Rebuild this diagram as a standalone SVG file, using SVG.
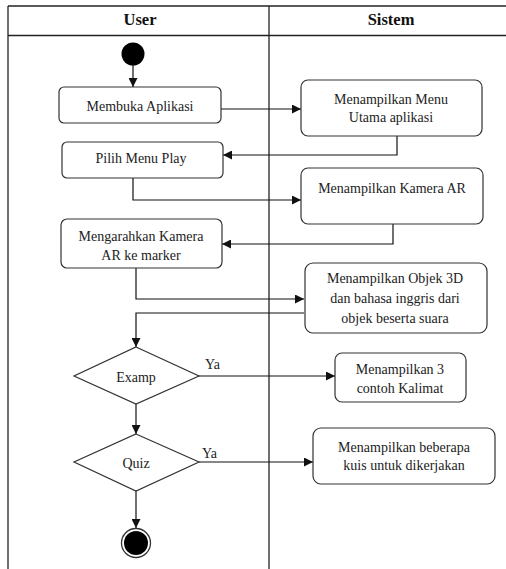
<svg xmlns="http://www.w3.org/2000/svg" width="506" height="569" viewBox="0 0 506 569">
<style>
.frame{stroke:#222;stroke-width:1.3;fill:none}
.node{fill:#fff;stroke:#333;stroke-width:1.2}
text{font-family:'Liberation Serif','Tinos','DejaVu Serif','Noto Serif',serif}
.t{font-size:14px;fill:#222;text-anchor:middle;dominant-baseline:central}
.h{font-size:16.5px;font-weight:bold;fill:#111;text-anchor:middle;dominant-baseline:central}
.c{stroke:#111;stroke-width:1.2;fill:none;marker-end:url(#ah)}
.lbl{font-size:14px;fill:#222}
</style>
<defs>
<marker id="ah" viewBox="0 0 10 10" refX="10" refY="5" markerWidth="9" markerHeight="9" markerUnits="userSpaceOnUse" orient="auto">
<path d="M0,0 L10,5 L0,10 Z" fill="#111"/>
</marker>
</defs>
<rect width="506" height="569" fill="#fff"/>
<g id="swimlanes">
<line class="frame" x1="8" y1="6" x2="506" y2="6"/>
<line class="frame" x1="8" y1="35.5" x2="506" y2="35.5"/>
<line class="frame" x1="8" y1="6" x2="8" y2="569"/>
<line class="frame" x1="269" y1="6" x2="269" y2="569"/>
<text class="h" x="140" y="19">User</text>
<text class="h" x="391" y="19">Sistem</text>
</g>
<g id="connectors">
<path class="c" d="M133,65 V87"/>
<path class="c" d="M221,109 H301"/>
<path class="c" d="M397,136 V155 H223"/>
<path class="c" d="M133,178 V200 H301"/>
<path class="c" d="M393,224 V244 H222"/>
<path class="c" d="M136,268 V299 H304"/>
<path class="c" d="M304,313 H136 V347"/>
<path class="c" d="M199,376 H335"/>
<path class="c" d="M136,404 V434"/>
<path class="c" d="M199,462 H313"/>
<path class="c" d="M136,491 V528"/>
<text class="lbl" x="205" y="369">Ya</text>
<text class="lbl" x="202" y="458">Ya</text>
</g>
<g id="start"><circle cx="133" cy="54" r="11.5" fill="#000"/></g>
<g id="membuka">
<rect class="node" x="59" y="87" width="162" height="36" rx="5"/>
<text class="t" x="140" y="106">Membuka Aplikasi</text>
</g>
<g id="menu-utama">
<rect class="node" x="301" y="80" width="181" height="56" rx="7"/>
<text class="t" x="391" y="99">Menampilkan Menu</text>
<text class="t" x="391" y="117">Utama aplikasi</text>
</g>
<g id="pilih">
<rect class="node" x="62" y="142" width="161" height="36" rx="5"/>
<text class="t" x="141" y="158">Pilih Menu Play</text>
</g>
<g id="kamera">
<rect class="node" x="301" y="168" width="182" height="56" rx="7"/>
<text class="t" x="392" y="188">Menampilkan Kamera AR</text>
</g>
<g id="mengarahkan">
<rect class="node" x="61" y="219" width="161" height="49" rx="6"/>
<text class="t" x="141" y="236">Mengarahkan Kamera</text>
<text class="t" x="141" y="255">AR ke marker</text>
</g>
<g id="objek">
<rect class="node" x="305" y="263" width="182" height="70" rx="8"/>
<text class="t" x="395" y="278">Menampilkan Objek 3D</text>
<text class="t" x="395" y="298">dan bahasa inggris dari</text>
<text class="t" x="395" y="318">objek beserta suara</text>
</g>
<g id="examp">
<polygon class="node" points="136,347 199,376 136,404 74,376"/>
<text class="t" x="136" y="377">Examp</text>
</g>
<g id="contoh">
<rect class="node" x="335" y="353" width="131" height="49" rx="7"/>
<text class="t" x="400" y="369">Menampilkan 3</text>
<text class="t" x="400" y="388">contoh Kalimat</text>
</g>
<g id="quiz">
<polygon class="node" points="136,434 199,462 136,491 74,462"/>
<text class="t" x="136" y="463">Quiz</text>
</g>
<g id="kuis">
<rect class="node" x="313" y="428" width="182" height="56" rx="8"/>
<text class="t" x="404" y="447">Menampilkan beberapa</text>
<text class="t" x="404" y="465">kuis untuk dikerjakan</text>
</g>
<g id="end">
<circle cx="136" cy="543" r="14.5" fill="#fff" stroke="#333" stroke-width="1.3"/>
<circle cx="136" cy="543" r="12" fill="#000"/>
</g>
</svg>
